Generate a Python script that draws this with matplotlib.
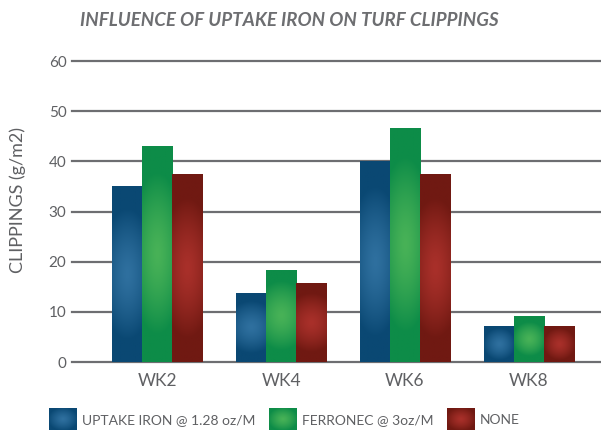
import matplotlib
matplotlib.use("Agg")
import matplotlib.pyplot as plt
import numpy as np
from matplotlib.colors import to_rgb
from matplotlib.legend_handler import HandlerBase
from matplotlib.image import BboxImage
from matplotlib.transforms import Bbox, TransformedBbox
from matplotlib.patches import Patch

weeks = ["WK2", "WK4", "WK6", "WK8"]
series = ["UPTAKE IRON @ 1.28 oz/M", "FERRONEC @ 3oz/M", "NONE"]
uptake_iron = [35.0, 13.8, 40.0, 7.1]
ferronec = [43.1, 18.4, 46.7, 9.1]
none = [37.4, 15.7, 37.4, 7.1]
y_ticks = [0, 10, 20, 30, 40, 50, 60]

# dark edge colour / light centre colour for each series
dark_colors = ["#0A4873", "#0D8C48", "#701912"]
light_colors = ["#2F709F", "#48B257", "#A9302A"]

GRID = "#6D6E71"
TEXT = "#5F6063"

plt.rcParams["font.family"] = ["Lato", "DejaVu Sans"]


def blend(dark, light, t):
    dark = np.array(to_rgb(dark))
    light = np.array(to_rgb(light))
    return light[None, None, :] * (1 - t[..., None]) + dark[None, None, :] * t[..., None]


def gradient_image(dark, light, w_px, h_px, nx=60, ny=160):
    # pixel grid across the bar, glow centred in the middle
    px = np.linspace(-w_px / 2, w_px / 2, nx)
    py = np.linspace(-h_px / 2, h_px / 2, ny)
    xx, yy = np.meshgrid(px, py)
    ry = max(0.75 * h_px / 2, 16)
    rx = min(1.8 * w_px / 2, max(ry, 1.05 * w_px / 2))
    d = np.sqrt((xx / rx) ** 2 + (yy / ry) ** 2)
    t = np.clip(d, 0, 1) ** 1.4
    return blend(dark, light, t)


class GradientHandler(HandlerBase):
    def create_artists(self, legend, orig_handle, xdescent, ydescent,
                       width, height, fontsize, trans):
        g = np.linspace(-1, 1, 40)
        gx, gy = np.meshgrid(g, g)
        t = np.clip(np.sqrt(gx ** 2 + gy ** 2) / 1.1, 0, 1) ** 1.3
        img = blend(orig_handle.dark, orig_handle.light, t)
        bb = Bbox.from_bounds(-xdescent, -ydescent, width, height)
        image = BboxImage(TransformedBbox(bb, trans), interpolation="bilinear")
        image.set_data(img)
        return [image]


fig = plt.figure(figsize=(6.01, 4.30), dpi=100)
ax = fig.add_axes([72 / 601, 68 / 430, 529 / 601, 301 / 430])

x = np.arange(len(weeks))
width = 0.2425
all_values = [uptake_iron, ferronec, none]
offsets = [-width, 0, width]

ax.set_xlim(-0.691, 3.585)
ax.set_ylim(0, 60)

px_per_x = 529 / (3.585 + 0.691)
px_per_y = 301 / 60

for values, off, dk, lt in zip(all_values, offsets, dark_colors, light_colors):
    bars = ax.bar(x + off, values, width, color=dk, zorder=2, linewidth=0)
    for rect in bars:
        x0, y0 = rect.get_x(), rect.get_y()
        w, h = rect.get_width(), rect.get_height()
        img = gradient_image(dk, lt, w * px_per_x, h * px_per_y)
        im = ax.imshow(img, extent=(x0, x0 + w, y0, y0 + h), aspect="auto",
                       interpolation="bilinear", zorder=3, origin="lower")
        im.set_clip_path(rect)

ax.set_xlim(-0.691, 3.585)
ax.set_ylim(0, 60)
ax.set_aspect("auto")

for yv in y_ticks:
    ax.axhline(yv, color=GRID, lw=1.6, zorder=1, clip_on=False)

for s in ax.spines.values():
    s.set_visible(False)

ax.set_yticks(y_ticks)
ax.set_yticklabels([str(v) for v in y_ticks], fontsize=11, color=TEXT)
ax.set_xticks(x)
ax.set_xticklabels(weeks, fontsize=12.5, color=TEXT)
ax.tick_params(axis="y", length=0, pad=4)
ax.tick_params(axis="x", length=0, pad=8)

fig.text(18 / 601, 1 - 200 / 430, "CLIPPINGS (g/m2)", rotation=90, ha="center",
         va="center", fontsize=13, color=TEXT)

fig.text(289 / 601, 1 - 20 / 430, "INFLUENCE OF UPTAKE IRON ON TURF CLIPPINGS",
         ha="center", va="center", fontsize=13.5, color=GRID, fontweight="bold",
         style="italic")

handles = []
for dk, lt, name in zip(dark_colors, light_colors, series):
    p = Patch(label=name)
    p.dark = dk
    p.light = lt
    handles.append(p)

fig.legend(handles=handles, loc="lower left", bbox_to_anchor=(49 / 601, 0.0),
           ncol=3, frameon=False, handlelength=2.0,
           handleheight=2.0, handletextpad=0.35, columnspacing=1.0,
           borderpad=0, borderaxespad=0,
           handler_map={Patch: GradientHandler()},
           labelcolor=TEXT, prop={"size": 10})

fig.savefig("out.png", dpi=100)
